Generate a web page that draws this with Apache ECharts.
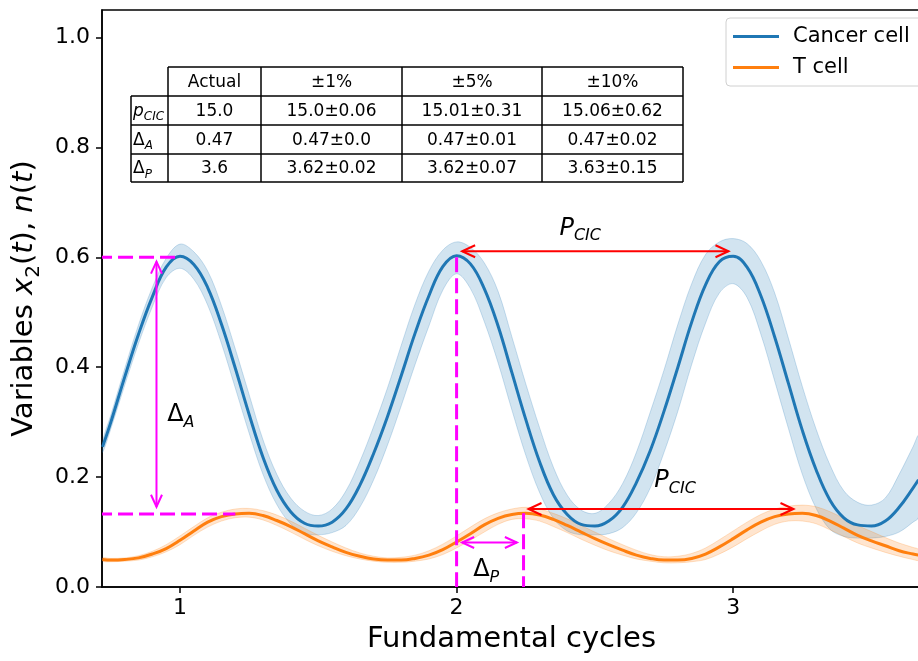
<!DOCTYPE html>
<html><head><meta charset="utf-8">
<script src="https://cdn.jsdelivr.net/npm/echarts@6/dist/echarts.min.js"></script>
<style>html,body{margin:0;padding:0;background:#fff}#c{width:918px;height:661px}</style>
</head><body><div id="c"></div><script>
// ---------- data ----------
const xs = [0.72,0.75,0.80,0.85,0.90,0.95,1.00,1.05,1.10,1.15,1.20,1.25,1.30,1.35,1.40,1.45,1.50,1.55,1.60,1.65,1.70,1.75,1.80,1.85,1.90,1.95,2.00,2.05,2.10,2.15,2.20,2.25,2.30,2.35,2.40,2.45,2.50,2.55,2.60,2.65,2.70,2.75,2.80,2.85,2.90,2.95,3.00,3.05,3.10,3.15,3.20,3.25,3.30,3.35,3.40,3.45,3.50,3.55,3.60,3.65,3.67];
const cancer = [0.255,0.30,0.382,0.46,0.528,0.582,0.602,0.587,0.545,0.478,0.398,0.314,0.236,0.176,0.137,0.116,0.111,0.118,0.142,0.185,0.243,0.31,0.385,0.462,0.53,0.583,0.603,0.588,0.543,0.475,0.39,0.305,0.228,0.168,0.132,0.114,0.111,0.12,0.145,0.19,0.248,0.32,0.40,0.482,0.55,0.592,0.602,0.582,0.53,0.455,0.37,0.285,0.213,0.158,0.126,0.113,0.111,0.12,0.145,0.18,0.195];
const cancerLow = [0.245,0.288,0.367,0.443,0.51,0.563,0.58,0.56,0.513,0.443,0.362,0.28,0.205,0.15,0.115,0.098,0.095,0.099,0.112,0.145,0.195,0.258,0.33,0.405,0.475,0.54,0.57,0.543,0.483,0.408,0.322,0.24,0.172,0.125,0.102,0.095,0.095,0.097,0.108,0.135,0.18,0.245,0.32,0.405,0.48,0.535,0.552,0.527,0.46,0.375,0.288,0.205,0.143,0.105,0.092,0.089,0.089,0.092,0.1,0.118,0.127];
const cancerHigh = [0.265,0.313,0.397,0.477,0.545,0.598,0.624,0.61,0.575,0.512,0.433,0.35,0.268,0.205,0.162,0.138,0.13,0.142,0.175,0.228,0.292,0.362,0.44,0.515,0.575,0.613,0.628,0.618,0.59,0.538,0.455,0.37,0.29,0.218,0.167,0.14,0.134,0.152,0.188,0.245,0.318,0.395,0.478,0.552,0.605,0.628,0.634,0.625,0.593,0.535,0.452,0.365,0.287,0.222,0.175,0.154,0.149,0.162,0.205,0.255,0.275];
const tcell = [0.05,0.049,0.05,0.053,0.06,0.07,0.085,0.102,0.118,0.128,0.133,0.134,0.13,0.121,0.11,0.097,0.084,0.073,0.063,0.056,0.051,0.049,0.049,0.052,0.058,0.068,0.082,0.097,0.113,0.125,0.132,0.134,0.131,0.123,0.112,0.1,0.088,0.077,0.067,0.058,0.052,0.049,0.049,0.052,0.06,0.073,0.088,0.104,0.118,0.128,0.133,0.134,0.13,0.12,0.107,0.094,0.084,0.075,0.066,0.06,0.058];
const tcellLow = [0.047,0.046,0.047,0.049,0.055,0.064,0.077,0.094,0.109,0.12,0.126,0.127,0.122,0.112,0.1,0.087,0.075,0.065,0.057,0.051,0.047,0.045,0.045,0.047,0.051,0.059,0.071,0.085,0.1,0.114,0.123,0.124,0.12,0.11,0.099,0.087,0.076,0.066,0.058,0.051,0.047,0.044,0.044,0.046,0.05,0.06,0.073,0.088,0.102,0.114,0.12,0.12,0.115,0.104,0.092,0.08,0.071,0.063,0.056,0.05,0.049];
const tcellHigh = [0.053,0.052,0.053,0.057,0.065,0.077,0.093,0.11,0.126,0.136,0.142,0.143,0.139,0.131,0.12,0.107,0.094,0.082,0.071,0.062,0.056,0.053,0.054,0.058,0.066,0.078,0.093,0.109,0.124,0.135,0.142,0.145,0.142,0.134,0.124,0.112,0.1,0.088,0.077,0.067,0.059,0.055,0.056,0.061,0.071,0.086,0.102,0.118,0.132,0.142,0.147,0.149,0.146,0.137,0.125,0.112,0.101,0.09,0.08,0.072,0.068];
const xTicks = [1, 2, 3];
const yTicks = [0, 0.2, 0.4, 0.6, 0.8, 1.0];
const seriesNames = ['Cancer cell', 'T cell'];
const tableHeader = ['', 'Actual', '±1%', '±5%', '±10%'];
const tableRowLabels = ['{i|p}{si|CIC}', 'Δ{si|A}', 'Δ{si|P}'];
const tableRows = [
  ['15.0', '15.0±0.06', '15.01±0.31', '15.06±0.62'],
  ['0.47', '0.47±0.0', '0.47±0.01', '0.47±0.02'],
  ['3.6', '3.62±0.02', '3.62±0.07', '3.63±0.15']
];
// annotation values (data coordinates)
const magentaHDashes = [[0.70, 1.0, 0.6], [0.70, 1.2, 0.133]];      // x0, x1, y
const magentaVDashes = [[2.0, 0.0, 0.6], [2.242, 0.0, 0.134]];      // x, y0, y1
const magentaArrows = [[0.915, 0.592, 0.915, 0.146], [2.02, 0.081, 2.218, 0.081]];
const redArrows = [[2.02, 0.611, 2.983, 0.611], [2.26, 0.142, 3.218, 0.142]];
const annoLabels = [
  {x: 1.003, y: 0.313, text: 'Δ{s|A}'},
  {x: 2.107, y: 0.031, text: 'Δ{s|P}'},
  {x: 2.447, y: 0.652, text: '{i|P}{s|CIC}'},
  {x: 2.79, y: 0.193, text: '{i|P}{s|CIC}'}
];

// ---------- chart ----------
const FONT = 'DejaVu Sans';
const BLUE = '#1f77b4', ORANGE = '#ff7f0e', MAGENTA = '#ff00ff', RED = '#ff0000';
const pairs = (a, b) => a.map((v, i) => [v, b[i]]);

function bandSeries(low, high, fill, stroke) {
  return {
    type: 'custom', silent: true, z: 1, clip: true,
    data: [[1, 0.5]],
    renderItem(params, api) {
      const pts = [];
      for (let i = 0; i < xs.length; i++) pts.push(api.coord([xs[i], high[i]]));
      for (let i = xs.length - 1; i >= 0; i--) pts.push(api.coord([xs[i], low[i]]));
      return {type: 'polygon', shape: {points: pts, smooth: 0.35},
        style: {fill: fill, stroke: stroke, lineWidth: 1}};
    }
  };
}

function arrowShapes(a, color, width, L, W, api) {
  const p0 = api.coord([a[0], a[1]]), p1 = api.coord([a[2], a[3]]);
  const dx = p1[0] - p0[0], dy = p1[1] - p0[1];
  const len = Math.hypot(dx, dy), ux = dx / len, uy = dy / len, nx = -uy, ny = ux;
  const st = {stroke: color, lineWidth: width, fill: null};
  return [
    {type: 'line', shape: {x1: p0[0], y1: p0[1], x2: p1[0], y2: p1[1]}, style: st},
    {type: 'polyline', shape: {points: [[p1[0] - ux*L + nx*W, p1[1] - uy*L + ny*W], p1, [p1[0] - ux*L - nx*W, p1[1] - uy*L - ny*W]]}, style: st},
    {type: 'polyline', shape: {points: [[p0[0] + ux*L + nx*W, p0[1] + uy*L + ny*W], p0, [p0[0] + ux*L - nx*W, p0[1] + uy*L - ny*W]]}, style: st}
  ];
}

const labelRich = {
  s: {fontFamily: FONT, fontSize: 16, fontStyle: 'italic', lineHeight: 16, verticalAlign: 'bottom', fill: '#000'},
  i: {fontFamily: FONT, fontSize: 24, fontStyle: 'italic', lineHeight: 31, fill: '#000'}
};

const annoSeries = {
  type: 'custom', silent: true, z: 10, clip: true,
  data: [[1, 0.5]],
  renderItem(params, api) {
    const children = [];
    const dash = {stroke: MAGENTA, lineWidth: 3, lineDash: [15, 6], fill: null};
    magentaHDashes.forEach(d => {
      const a = api.coord([d[0], d[2]]), b = api.coord([d[1], d[2]]);
      children.push({type: 'line', shape: {x1: a[0], y1: a[1], x2: b[0], y2: b[1]}, style: dash});
    });
    magentaVDashes.forEach(d => {
      const a = api.coord([d[0], d[2]]), b = api.coord([d[0], d[1]]);
      children.push({type: 'line', shape: {x1: a[0], y1: a[1], x2: b[0], y2: b[1]}, style: dash});
    });
    magentaArrows.forEach(a => children.push(...arrowShapes(a, MAGENTA, 2, 12, 5.5, api)));
    redArrows.forEach(a => children.push(...arrowShapes(a, RED, 2, 13, 6, api)));
    annoLabels.forEach(l => {
      const p = api.coord([l.x, l.y]);
      children.push({type: 'text', x: p[0], y: p[1], style: {
        text: l.text, rich: labelRich, fontFamily: FONT, fontSize: 24, lineHeight: 31,
        fill: '#000', align: 'center', verticalAlign: 'middle'}});
    });
    return {type: 'group', children: children};
  }
};

// table graphic (overlay, pixel layout)
const colEdges = [131, 168, 261, 402, 542, 683];
const rowEdges = [67, 96, 125, 154, 182];
const tableEls = [];
const tl = {stroke: '#000', lineWidth: 1.5};
tableEls.push({type: 'line', shape: {x1: colEdges[1], y1: rowEdges[0], x2: colEdges[5], y2: rowEdges[0]}, style: tl});
for (let r = 1; r < rowEdges.length; r++)
  tableEls.push({type: 'line', shape: {x1: colEdges[0], y1: rowEdges[r], x2: colEdges[5], y2: rowEdges[r]}, style: tl});
tableEls.push({type: 'line', shape: {x1: colEdges[0], y1: rowEdges[1], x2: colEdges[0], y2: rowEdges[4]}, style: tl});
for (let c = 1; c < colEdges.length; c++)
  tableEls.push({type: 'line', shape: {x1: colEdges[c], y1: rowEdges[0], x2: colEdges[c], y2: rowEdges[4]}, style: tl});
const cellFont = {fontFamily: FONT, fontSize: 17, fill: '#000'};
tableHeader.forEach((h, c) => {
  if (!h) return;
  tableEls.push({type: 'text', x: (colEdges[c] + colEdges[c + 1]) / 2, y: (rowEdges[0] + rowEdges[1]) / 2 + 1,
    style: Object.assign({text: h, align: 'center', verticalAlign: 'middle'}, cellFont)});
});
const tableRich = {
  i: {fontFamily: FONT, fontSize: 17, fontStyle: 'italic', lineHeight: 23, fill: '#000'},
  si: {fontFamily: FONT, fontSize: 12, fontStyle: 'italic', lineHeight: 12, verticalAlign: 'bottom', fill: '#000'}
};
tableRows.forEach((row, r) => {
  const yc = (rowEdges[r + 1] + rowEdges[r + 2]) / 2 + 1;
  tableEls.push({type: 'text', x: colEdges[0] + 2, y: yc,
    style: Object.assign({text: tableRowLabels[r], rich: tableRich, lineHeight: 23, align: 'left', verticalAlign: 'middle'}, cellFont)});
  row.forEach((v, c) => {
    tableEls.push({type: 'text', x: (colEdges[c + 1] + colEdges[c + 2]) / 2, y: yc,
      style: Object.assign({text: v, align: 'center', verticalAlign: 'middle'}, cellFont)});
  });
});

const chart = echarts.init(document.getElementById('c'));
chart.setOption({
  animation: false,
  backgroundColor: '#fff',
  textStyle: {fontFamily: FONT},
  grid: {left: 102, top: 10, right: -3, bottom: 74, show: true, borderColor: '#000', borderWidth: 1.5,
    backgroundColor: 'transparent', containLabel: false, outerBoundsMode: 'none'},
  xAxis: {
    type: 'value', min: 0.718, max: 3.679,
    name: 'Fundamental cycles', nameLocation: 'middle', nameGap: 38,
    nameTextStyle: {fontFamily: FONT, fontSize: 29, color: '#000'},
    axisLine: {show: true, onZero: false, lineStyle: {color: '#000', width: 1.5}},
    axisTick: {show: true, length: 6, customValues: xTicks, lineStyle: {color: '#000', width: 1.5}},
    axisLabel: {customValues: xTicks, fontFamily: FONT, fontSize: 22, color: '#000', margin: 10, formatter: v => String(v)},
    splitLine: {show: false}
  },
  yAxis: {
    type: 'value', min: 0, max: 1.05,
    name: 'Variables {i|x}{s|2}({i|t}), {i|n}({i|t})', nameLocation: 'middle', nameGap: 44, nameRotate: 90,
    nameTextStyle: {fontFamily: FONT, fontSize: 29, color: '#000', lineHeight: 40,
      rich: {i: {fontFamily: FONT, fontSize: 29, fontStyle: 'italic', lineHeight: 40, color: '#000'},
             s: {fontFamily: FONT, fontSize: 20, lineHeight: 20, verticalAlign: 'bottom', color: '#000'}}},
    axisLine: {show: true, onZero: false, lineStyle: {color: '#000', width: 1.5}},
    axisTick: {show: true, length: 6, customValues: yTicks, lineStyle: {color: '#000', width: 1.5}},
    axisLabel: {customValues: yTicks, fontFamily: FONT, fontSize: 22, color: '#000', margin: 12, formatter: v => v.toFixed(1)},
    splitLine: {show: false}
  },
  legend: {
    data: seriesNames, orient: 'vertical', left: 726, top: 18,
    padding: [8, 60, 8, 7], itemGap: 10, itemWidth: 46, itemHeight: 3, icon: 'rect',
    textStyle: {fontFamily: FONT, fontSize: 21, color: '#000', padding: [0, 0, 0, 9]},
    backgroundColor: '#fff', borderColor: '#d0d0d0', borderWidth: 1, borderRadius: 4
  },
  graphic: {elements: tableEls},
  series: [
    bandSeries(cancerLow, cancerHigh, 'rgba(31,119,180,0.2)', 'rgba(31,119,180,0.22)'),
    bandSeries(tcellLow, tcellHigh, 'rgba(255,127,14,0.2)', 'rgba(255,127,14,0.22)'),
    {name: seriesNames[0], type: 'line', data: pairs(xs, cancer), smooth: 0.4, symbol: 'none', z: 3,
      lineStyle: {color: BLUE, width: 3}, itemStyle: {color: BLUE}},
    {name: seriesNames[1], type: 'line', data: pairs(xs, tcell), smooth: 0.4, symbol: 'none', z: 3,
      lineStyle: {color: ORANGE, width: 3}, itemStyle: {color: ORANGE}},
    annoSeries
  ]
});
</script></body></html>
